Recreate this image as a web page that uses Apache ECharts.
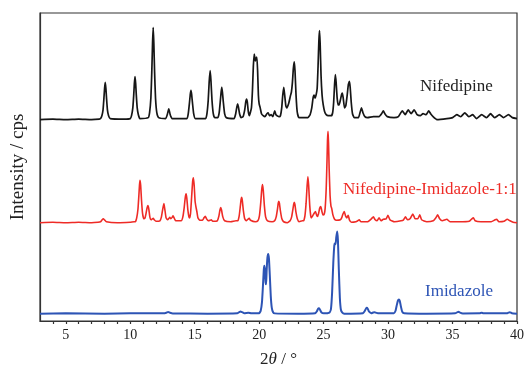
<!DOCTYPE html>
<html>
<head>
<meta charset="utf-8">
<script src="https://cdn.jsdelivr.net/npm/echarts@6/dist/echarts.min.js"></script>
<style>html,body{margin:0;padding:0;background:#fff}#c{width:527px;height:373px}</style>
</head>
<body>
<div id="c"></div>
<script>
// 2θ (deg) vs relative intensity (arbitrary units above each trace's baseline)
const seriesNames = ['Nifedipine', 'Nifedipine-Imidazole-1:1', 'Imidazole'];
const baselineOffsets = [206, 100.5, 7.5];
const xTickValues = [4,5,6,7,8,9,10,11,12,13,14,15,16,17,18,19,20,21,22,23,24,25,26,27,28,29,30,31,32,33,34,35,36,37,38,39,40];
const xLabelValues = [5,10,15,20,25,30,35,40];

const nifedipine = [
[3,0],[4,0.5],[5,0],[6,0.5],[7,0],[7.6,0.5],
[7.7,1],[7.8,4],[7.89,10],[7.96,22],[8.01,32],[8.06,38],[8.11,32],[8.16,22],[8.23,10],[8.32,4],[8.45,1],[9.5,0.5],
[10.0,1],[10.1,4],[10.2,12],[10.27,25],[10.32,37],[10.37,44],[10.42,37],[10.47,25],[10.54,12],[10.63,5],[10.75,1],
[11.4,2],[11.5,7],[11.6,22],[11.67,48],[11.73,78],[11.78,94],[11.83,78],[11.89,48],[11.96,22],[12.06,7],[12.2,2],
[12.75,1],[12.87,5],[12.99,11],[13.1,5],[13.25,1],
[14.4,1],[14.5,6],[14.6,18],[14.66,26],[14.71,30],[14.76,26],[14.82,18],[14.92,6],[15.05,1],
[15.85,1],[15.95,6],[16.05,20],[16.12,38],[16.2,50],[16.26,40],[16.34,20],[16.44,6],[16.55,2],
[16.8,2],[16.9,7],[16.98,18],[17.05,28],[17.1,33],[17.15,28],[17.22,18],[17.32,6],[17.45,2],
[18.05,1],[18.18,6],[18.27,13],[18.33,16],[18.39,13],[18.48,6],[18.6,2],
[18.75,3],[18.88,10],[18.96,18],[19.02,21],[19.08,18],[19.16,8],[19.25,4],
[19.3,4],[19.4,12],[19.48,30],[19.55,55],[19.62,67],[19.7,60],[19.77,63],[19.82,64],[19.88,50],[19.94,25],[20.0,16],[20.08,12],[20.18,6],
[20.31,4],[20.45,3],[20.6,6],[20.7,7],[20.8,4],[20.93,5],[21.05,3],[21.21,9],[21.3,5],[21.39,4],[21.55,3],
[21.65,4],[21.75,12],[21.83,25],[21.91,33],[21.98,25],[22.07,14],[22.15,12],[22.3,17],[22.42,24],[22.5,28],[22.58,38],[22.65,52],[22.72,59],[22.78,50],[22.86,25],[22.95,8],[23.08,2],
[23.3,2],[23.78,2],[23.95,5],[24.08,12],[24.18,22],[24.26,25],[24.34,22],[24.43,26],[24.5,32],[24.57,55],[24.63,80],[24.68,91],[24.73,78],[24.8,45],[24.88,25],[24.97,15],[25.08,8],[25.2,5],[25.35,4],[25.6,4],
[25.7,7],[25.78,18],[25.85,36],[25.91,46],[25.97,38],[26.05,22],[26.13,15],[26.2,15],[26.3,20],[26.4,26],[26.45,27],[26.52,22],[26.62,12],[26.72,14],[26.82,24],[26.92,36],[27.0,39],[27.06,33],[27.14,18],[27.24,6],[27.38,2],
[27.7,2],[27.82,7],[27.94,12],[28.05,7],[28.2,3],[28.4,2],[28.86,3],[29.3,3],[29.5,6],[29.63,9],[29.75,6],[29.94,3],[30.46,2],[30.8,3],
[31.1,9],[31.33,5],[31.56,10],[31.79,6],[32.02,10],[32.25,5],[32.5,4],[32.71,6],[32.95,5],[33.15,9],[33.3,6],[33.49,3],[33.79,0],
[34.56,1],[35.0,2],[35.33,5],[35.64,3],[35.95,7],[36.26,3],[36.56,5],[36.87,1],[37.26,5],[37.64,2],[37.95,6],[38.26,2],[38.64,5],[38.95,2],[39.34,5],[39.64,2],[40,1]
];

const cocrystal = [
[3,0],[4,0.5],[5,0],[6,0.5],[7,0],[7.5,0.5],
[7.7,1],[7.82,3],[7.91,4],[8.0,3],[8.15,1],[9,0],[10,0.5],[10.3,1],
[10.4,1],[10.5,5],[10.6,14],[10.67,28],[10.72,39],[10.76,43.5],[10.81,38],[10.87,24],[10.95,10],[11.05,4],[11.15,5],
[11.22,9],[11.3,15],[11.37,17.5],[11.44,14],[11.52,6],[11.62,3],[11.72,4],[11.78,4.5],[11.86,3],[12.0,1.5],
[12.3,2],[12.42,6],[12.52,14],[12.61,19.5],[12.68,14],[12.78,5],[12.9,3],[13.0,4.5],[13.07,5.5],[13.15,4],[13.25,5.5],[13.32,7],[13.4,5],[13.52,2],
[13.95,2],[14.08,6],[14.18,15],[14.26,25],[14.33,29.5],[14.39,25],[14.47,13],[14.55,6],[14.61,5],
[14.68,10],[14.76,26],[14.84,42],[14.9,46],[14.96,38],[15.03,22],[15.1,16],[15.16,12],[15.25,5],[15.4,2.5],[15.6,2.5],[15.72,5],[15.82,6.5],[15.92,4],[16.05,2],[16.2,2.5],[16.28,3],[16.4,1.5],
[16.75,2],[16.88,7],[16.96,13],[17.02,15.5],[17.08,13],[17.18,6],[17.32,2],[17.8,1],[18.2,2],
[18.35,2],[18.45,7],[18.54,17],[18.6,24],[18.64,26],[18.69,23],[18.77,13],[18.88,4],[19.0,2],[19.12,3.5],[19.23,4.5],[19.33,2.5],[19.7,1],
[19.9,2],[20.02,7],[20.12,20],[20.2,34],[20.26,39],[20.32,33],[20.4,18],[20.5,6],[20.65,2],[21.0,1],
[21.2,2],[21.32,6],[21.42,14],[21.48,20],[21.52,22],[21.57,20],[21.65,12],[21.76,4],[21.9,1],[22.18,0],
[22.4,2],[22.52,6],[22.62,14],[22.68,19],[22.72,21],[22.77,19],[22.85,11],[22.96,4],[23.1,1],[23.35,2],
[23.45,2],[23.55,7],[23.64,20],[23.72,38],[23.78,47],[23.84,38],[23.92,18],[24.0,7],[24.05,5],[24.15,7],[24.28,10],[24.37,11.5],[24.45,8],[24.52,6.5],[24.6,9],[24.7,15],[24.78,16.5],[24.86,12],[24.95,8],[25.05,9],
[25.12,15],[25.2,35],[25.26,62],[25.3,84],[25.34,93.5],[25.38,82],[25.43,55],[25.5,28],[25.57,17],[25.63,14.5],[25.72,8],[25.85,3.5],[26.0,2.5],[26.3,3],
[26.4,5],[26.5,9],[26.6,11.5],[26.7,7],[26.8,5],[26.91,7.5],[27.0,3],[27.16,0.5],[27.5,1],[27.65,2],[27.76,3],[27.9,1],[28.4,1],[28.7,4],[28.86,6],[29.0,3],[29.15,2],[29.3,5],[29.45,2],[29.63,3.5],[29.85,4],[29.99,7.5],[30.15,3],[30.5,1],
[31.0,2],[31.2,3],[31.35,6],[31.5,3],[31.7,4],[31.92,9],[32.1,4],[32.3,4],[32.46,8],[32.6,3],[33.0,1],[33.5,2],[33.7,5],[33.85,8],[34.0,4],[34.2,2],[34.56,3.5],[34.8,1],
[35.5,1],[36.3,1.5],[36.5,4],[36.62,5],[36.75,2],[37.2,1],[38.0,1],[38.3,3],[38.42,3.5],[38.6,1],[39.0,1.5],[39.24,3.5],[39.45,2],[39.7,0.5],[40,0]
];

const imidazole = [
[3,0],[5,0.3],[8,0],[10,0.3],[12.6,0.3],[12.8,1],[12.94,1.8],[13.08,1],[13.3,0.2],[16,0],[18.3,0.3],[18.45,1.5],[18.56,2.2],[18.68,1.5],[18.85,0.5],[19.16,1],[19.4,0.3],[19.9,0.5],
[20.0,0.5],[20.12,3],[20.22,12],[20.3,30],[20.36,45],[20.4,49],[20.45,44],[20.5,32],[20.54,30],[20.58,44],[20.64,57],[20.7,61],[20.76,56],[20.83,38],[20.9,18],[20.98,6],[21.08,1.5],[21.2,0.3],
[23,0],[24.35,0.5],[24.48,2.5],[24.57,5],[24.63,5.5],[24.7,4.5],[24.82,1.5],[25.0,0.3],
[25.45,1],[25.57,5],[25.66,22],[25.75,52],[25.83,70],[25.88,72],[25.93,71],[25.98,78],[26.05,84],[26.11,75],[26.18,45],[26.26,16],[26.34,4],[26.45,1],[26.6,0],
[28.05,0.5],[28.18,2.5],[28.28,5],[28.35,6],[28.42,5],[28.53,2],[28.7,0.5],[28.85,1.2],[28.96,1.5],[29.1,0.8],[29.3,0.3],
[30.45,0.5],[30.58,3],[30.68,9],[30.77,13.5],[30.84,14.5],[30.91,13],[31.0,7],[31.1,2],[31.25,0.5],[33,0],
[35.2,0.3],[35.38,1.5],[35.47,2],[35.58,1],[35.8,0.2],[37.1,0.3],[37.26,1],[37.4,0.3],[38.5,0.3],[39.25,0.5],[39.44,1.5],[39.6,0.5],[40,0]
];

const traces = [nifedipine, cocrystal, imidazole];
const colors = ['#161616', '#ee2b26', '#2d54b5'];
const widths = [1.7, 1.6, 2];

const chart = echarts.init(document.getElementById('c'), null, {renderer: 'canvas'});
const serif = '"Liberation Serif","Times New Roman",serif';

chart.setOption({
  animation: false,
  backgroundColor: '#fff',
  grid: {left: 40, right: 6, top: 13, bottom: 45, show: true, borderColor: '#333', borderWidth: 1.2, containLabel: false},
  xAxis: {
    type: 'value', min: 3, max: 40,
    axisLine: {show: true, onZero: false, lineStyle: {color: '#333', width: 1.2}},
    axisTick: {show: true, inside: false, length: 3, customValues: xTickValues, lineStyle: {color: '#333', width: 1.2}},
    axisLabel: {customValues: xLabelValues, fontFamily: serif, fontSize: 14, color: '#222', margin: 7},
    splitLine: {show: false},
    name: '{a|2}{b|θ}{a| / °}',
    nameLocation: 'middle', nameGap: 30,
    nameTextStyle: {rich: {
      a: {fontFamily: serif, fontSize: 17, color: '#222'},
      b: {fontFamily: serif, fontSize: 17, fontStyle: 'italic', color: '#222'}
    }}
  },
  yAxis: {
    type: 'value', min: 0, max: 315,
    axisLine: {show: true, lineStyle: {color: '#333', width: 1.2}},
    axisTick: {show: false}, axisLabel: {show: false}, splitLine: {show: false},
    name: 'Intensity / cps', nameLocation: 'middle', nameGap: 12, nameRotate: 90,
    nameTextStyle: {fontFamily: serif, fontSize: 19, color: '#222'}
  },
  series: traces.map((t, i) => ({
    name: seriesNames[i],
    type: 'line',
    showSymbol: false,
    smooth: 0.15,
    lineStyle: {color: colors[i], width: widths[i]},
    data: t.map(p => [p[0], p[1] + baselineOffsets[i]])
  })),
  graphic: [
    {type: 'text', x: 420, y: 87, style: {text: seriesNames[0], font: '17px ' + serif, fill: '#222', verticalAlign: 'middle'}},
    {type: 'text', x: 343, y: 190, style: {text: seriesNames[1], font: '17px ' + serif, fill: '#ee2b26', verticalAlign: 'middle'}},
    {type: 'text', x: 425, y: 292, style: {text: seriesNames[2], font: '17px ' + serif, fill: '#2d54b5', verticalAlign: 'middle'}}
  ]
});
</script>
</body>
</html>
